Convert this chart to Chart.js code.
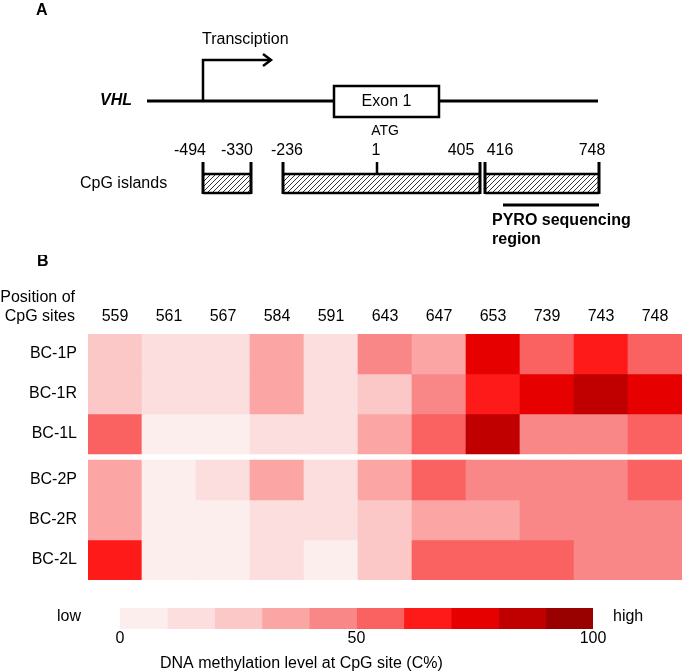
<!DOCTYPE html>
<html>
<head>
<meta charset="utf-8">
<script src="https://cdn.jsdelivr.net/npm/chart.js@4/dist/chart.umd.min.js"></script>
<style>
  html, body { margin: 0; padding: 0; background: #fff; }
  #wrap { position: relative; width: 685px; height: 671px; overflow: hidden; background: #fff; }
  #wrap canvas { position: absolute; left: 0; }
</style>
</head>
<body>
<div id="wrap">
  <canvas id="gene" width="685" height="255" style="top:0"></canvas>
  <canvas id="heat" width="685" height="325" style="top:255px"></canvas>
  <canvas id="scale" width="685" height="79" style="top:592px"></canvas>
</div>
<script>
// ===== DATA ===== //
const cpgSites = ['559', '561', '567', '584', '591', '643', '647', '653', '739', '743', '748'];
const sampleNames = ['BC-1P', 'BC-1R', 'BC-1L', 'BC-2P', 'BC-2R', 'BC-2L'];
const sampleGroup = [1, 1, 1, 2, 2, 2];

// methylation level (%) per sample, one value per CpG site
const bc1P = [25, 15, 15, 35, 15, 45, 35, 75, 55, 65, 55];
const bc1R = [25, 15, 15, 35, 15, 25, 45, 65, 75, 85, 75];
const bc1L = [55, 5, 5, 15, 15, 35, 55, 85, 45, 45, 55];
const bc2P = [35, 5, 15, 35, 15, 35, 55, 45, 45, 45, 55];
const bc2R = [35, 5, 5, 15, 15, 25, 35, 35, 45, 45, 45];
const bc2L = [65, 5, 5, 15, 3, 25, 55, 55, 55, 45, 45];
const methylation = [bc1P, bc1R, bc1L, bc2P, bc2R, bc2L];

// colour key
const binEdges = [0, 10, 20, 30, 40, 50, 60, 70, 80, 90, 100];
const binColors = ['#fdeeee', '#fcdede', '#fbc7c7', '#fba5a5', '#fa8787',
                   '#fa6161', '#ff1a1a', '#e60000', '#c00000', '#990000'];
const keyTicks = [0, 50, 100];

// gene schematic labels
const islandLabels = ['-494', '-330', '-236', '1', '405', '416', '748'];

Chart.defaults.font.family = '"Liberation Sans", Arial, sans-serif';
Chart.defaults.font.size = 16;
Chart.defaults.color = '#000';

const FONT = '16px "Liberation Sans", Arial, sans-serif';
const BOLD = 'bold 16px "Liberation Sans", Arial, sans-serif';

function colorFor(v) {
  return binColors[Math.min(binColors.length - 1, Math.floor(v / 10))];
}

function label(ctx, s, x, y, font, align) {
  ctx.font = font || FONT;
  ctx.textAlign = align || 'center';
  ctx.textBaseline = 'middle';
  ctx.fillStyle = '#000';
  ctx.fillText(s, x, y);
}

// keep the plot area where afterFit puts it (no extra room for edge labels)
function noEdgePadding(scale) {
  scale.paddingTop = 0;
  scale.paddingBottom = 0;
  scale.paddingLeft = 0;
  scale.paddingRight = 0;
}

// ===== PANEL A: gene schematic ===== //
function hatchPattern(ctx) {
  const c = document.createElement('canvas');
  c.width = 5; c.height = 5;
  const p = c.getContext('2d');
  p.strokeStyle = '#333';
  p.lineWidth = 1;
  p.beginPath();
  p.moveTo(0, 5); p.lineTo(5, 0);
  p.moveTo(-1, 1); p.lineTo(1, -1);
  p.moveTo(4, 6); p.lineTo(6, 4);
  p.stroke();
  return ctx.createPattern(c, 'repeat');
}

// schematic layout (not to scale)
const geneLayout = {
  lineY: 101, lineX: [147, 598],
  exon: [334, 86, 439, 117],
  tss: 203, arrowY: 60, arrowEnd: 271,
  labelX: [190, 237, 287, 376, 461, 500, 592], labelY: 151,
  islands: [[203, 251], [283, 480], [485, 599]],
  islandTop: 174, islandBottom: 193, tickTop: 162, atgX: 377,
  pyro: [503, 599], pyroY: 205
};

const genePlugin = {
  id: 'gene',
  afterDraw(chart) {
    const ctx = chart.ctx;
    const X = v => chart.scales.x.getPixelForValue(v);
    const Y = v => chart.scales.y.getPixelForValue(v);
    const g = geneLayout;
    ctx.save();
    ctx.strokeStyle = '#000';
    ctx.lineCap = 'butt';

    label(ctx, 'A', X(36), Y(11), BOLD, 'left');

    // gene line
    ctx.lineWidth = 3;
    ctx.beginPath();
    ctx.moveTo(X(g.lineX[0]), Y(g.lineY));
    ctx.lineTo(X(g.lineX[1]), Y(g.lineY));
    ctx.stroke();
    label(ctx, 'VHL', X(132), Y(g.lineY), 'italic bold 16px "Liberation Sans", Arial, sans-serif', 'right');

    // exon box
    const [ex0, ey0, ex1, ey1] = g.exon;
    ctx.fillStyle = '#fff';
    ctx.fillRect(X(ex0), Y(ey0), X(ex1) - X(ex0), Y(ey1) - Y(ey0));
    ctx.lineWidth = 2.5;
    ctx.strokeRect(X(ex0), Y(ey0), X(ex1) - X(ex0), Y(ey1) - Y(ey0));
    label(ctx, 'Exon 1', X((ex0 + ex1) / 2), Y((ey0 + ey1) / 2));

    // transcription arrow
    ctx.lineWidth = 2.5;
    ctx.lineJoin = 'miter';
    ctx.beginPath();
    ctx.moveTo(X(g.tss), Y(g.lineY));
    ctx.lineTo(X(g.tss), Y(g.arrowY));
    ctx.lineTo(X(g.arrowEnd), Y(g.arrowY));
    ctx.stroke();
    ctx.beginPath();
    ctx.moveTo(X(g.arrowEnd - 8), Y(g.arrowY - 6));
    ctx.lineTo(X(g.arrowEnd), Y(g.arrowY));
    ctx.lineTo(X(g.arrowEnd - 8), Y(g.arrowY + 6));
    ctx.stroke();
    label(ctx, 'Transciption', X(202), Y(40), FONT, 'left');

    label(ctx, 'ATG', X(385), Y(131), '14px "Liberation Sans", Arial, sans-serif');
    islandLabels.forEach((s, i) => label(ctx, s, X(g.labelX[i]), Y(g.labelY)));
    label(ctx, 'CpG islands', X(80), Y(184), FONT, 'left');

    // CpG island boxes
    const hatch = hatchPattern(ctx);
    g.islands.forEach(([a, b]) => {
      ctx.fillStyle = hatch;
      ctx.fillRect(X(a), Y(g.islandTop), X(b) - X(a), Y(g.islandBottom) - Y(g.islandTop));
      ctx.lineWidth = 2.5;
      ctx.beginPath();
      ctx.moveTo(X(a), Y(g.islandTop)); ctx.lineTo(X(b), Y(g.islandTop));
      ctx.moveTo(X(a), Y(g.islandBottom)); ctx.lineTo(X(b), Y(g.islandBottom));
      ctx.stroke();
      ctx.lineWidth = 3;
      ctx.beginPath();
      ctx.moveTo(X(a), Y(g.tickTop)); ctx.lineTo(X(a), Y(g.islandBottom + 1));
      ctx.moveTo(X(b), Y(g.tickTop)); ctx.lineTo(X(b), Y(g.islandBottom + 1));
      ctx.stroke();
    });
    ctx.lineWidth = 2.5;
    ctx.beginPath();
    ctx.moveTo(X(g.atgX), Y(g.tickTop));
    ctx.lineTo(X(g.atgX), Y(g.islandTop));
    ctx.stroke();

    // pyrosequencing region
    ctx.lineWidth = 3;
    ctx.beginPath();
    ctx.moveTo(X(g.pyro[0]), Y(g.pyroY));
    ctx.lineTo(X(g.pyro[1]), Y(g.pyroY));
    ctx.stroke();
    label(ctx, 'PYRO sequencing', X(492), Y(221), BOLD, 'left');
    label(ctx, 'region', X(492), Y(240), BOLD, 'left');
    ctx.restore();
  }
};

new Chart(document.getElementById('gene'), {
  type: 'scatter',
  data: { datasets: [] },
  options: {
    responsive: false,
    animation: false,
    layout: { padding: 0 },
    plugins: { legend: { display: false }, tooltip: { enabled: false } },
    scales: {
      x: { type: 'linear', display: false, min: 0, max: 685 },
      y: { type: 'linear', display: false, min: 0, max: 255, reverse: true }
    }
  },
  plugins: [genePlugin]
});

// ===== PANEL B: heatmap ===== //
const GROUP_GAP = 0.15;
const rowStart = sampleGroup.map((grp, i) => i + (grp - 1) * GROUP_GAP);
const rowCenter = rowStart.map(v => v + 0.5);

const heatDatasets = methylation.map((vals, i) => ({
  label: sampleNames[i],
  data: vals.map(() => [rowStart[i], rowStart[i] + 1]),
  backgroundColor: vals.map(colorFor),
  borderWidth: 0,
  barPercentage: 1,
  categoryPercentage: 1,
  grouped: false
}));

const heatPlugin = {
  id: 'heatText',
  afterDraw(chart) {
    const ctx = chart.ctx;
    const xs = chart.scales.x;
    label(ctx, 'B', 37, 7, BOLD, 'left');
    const y = xs.bottom - 8 - 9.6;
    label(ctx, 'Position of', 75, y - 19, FONT, 'right');
    label(ctx, 'CpG sites', 75, y, FONT, 'right');
  }
};

new Chart(document.getElementById('heat'), {
  type: 'bar',
  data: { labels: cpgSites, datasets: heatDatasets },
  options: {
    responsive: false,
    animation: false,
    layout: { padding: { left: 0, right: 3, top: 0, bottom: 0 } },
    plugins: { legend: { display: false }, tooltip: { enabled: false } },
    scales: {
      x: {
        type: 'category',
        position: 'top',
        grid: { display: false, drawTicks: false },
        border: { display: false },
        ticks: { padding: 8, maxRotation: 0, autoSkip: false, font: { size: 16 } },
        afterFit(scale) { scale.height = 79; noEdgePadding(scale); }
      },
      y: {
        type: 'linear',
        reverse: true,
        min: 0,
        max: sampleNames.length + GROUP_GAP,
        grid: { display: false, drawTicks: false },
        border: { display: false },
        afterBuildTicks(scale) { scale.ticks = rowCenter.map(v => ({ value: v })); },
        ticks: {
          padding: 11,
          autoSkip: false,
          font: { size: 16 },
          callback: (v, i) => sampleNames[i]
        },
        afterFit(scale) { scale.width = 88; noEdgePadding(scale); }
      }
    }
  },
  plugins: [heatPlugin]
});

// ===== COLOUR KEY ===== //
const keyDatasets = binColors.map((c, i) => ({
  data: [[binEdges[i], binEdges[i + 1]]],
  backgroundColor: c,
  borderWidth: 0,
  barPercentage: 1,
  categoryPercentage: 1,
  grouped: false
}));

const keyPlugin = {
  id: 'keyText',
  afterDraw(chart) {
    const ctx = chart.ctx;
    const a = chart.chartArea;
    const cy = (a.top + a.bottom) / 2 - 2;
    label(ctx, 'low', 81, cy, FONT, 'right');
    label(ctx, 'high', 613, cy, FONT, 'left');
    label(ctx, 'DNA methylation level at CpG site (C%)', 160, 72, FONT, 'left');
  }
};

new Chart(document.getElementById('scale'), {
  type: 'bar',
  data: { labels: [''], datasets: keyDatasets },
  options: {
    indexAxis: 'y',
    responsive: false,
    animation: false,
    layout: { padding: { left: 120, right: 92, top: 16, bottom: 0 } },
    plugins: { legend: { display: false }, tooltip: { enabled: false } },
    scales: {
      y: { type: 'category', display: false },
      x: {
        type: 'linear',
        min: 0,
        max: 100,
        grid: { display: false, drawTicks: false },
        border: { display: false },
        afterBuildTicks(scale) { scale.ticks = keyTicks.map(v => ({ value: v })); },
        ticks: { padding: 0, font: { size: 16 } },
        afterFit(scale) { scale.height = 42; noEdgePadding(scale); }
      }
    }
  },
  plugins: [keyPlugin]
});
</script>
</body>
</html>
